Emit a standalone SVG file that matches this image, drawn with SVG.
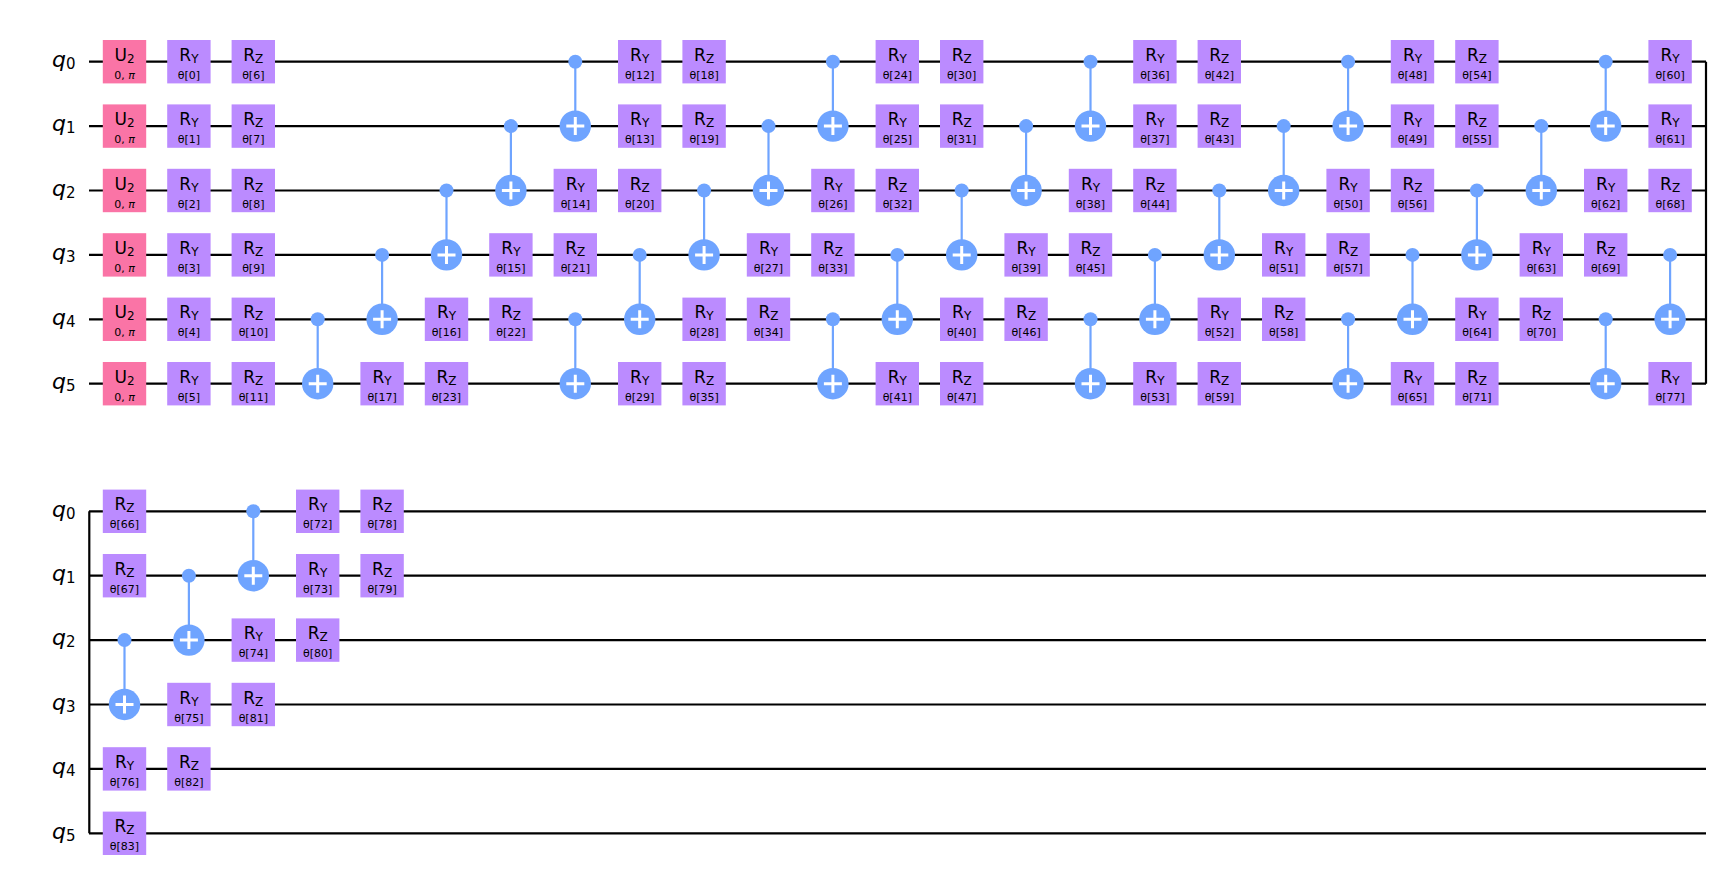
<svg xmlns="http://www.w3.org/2000/svg" width="1722" height="882" viewBox="0 0 1722 882">
<style>
.w{stroke:#000;stroke-width:2.2;fill:none}
.ry,.rz{fill:#BB8BFF}
.u{fill:#FA74A6}
text{font-family:"DejaVu Sans","Liberation Sans",sans-serif;fill:#000;text-anchor:middle}
.g{font-size:17px}
.s{font-size:12px}
.p{font-size:11px}
.q{font-size:22px;font-style:italic;text-anchor:start}
.qs{font-size:15px;font-style:normal}
.cl{stroke:#6FA4FF;stroke-width:2.2}
.cd{fill:#6FA4FF}
.pl{stroke:#fff;stroke-width:3}
</style>
<defs>
<rect id="box" x="-21.7" y="-21.7" width="43.4" height="43.4"/>
<g id="tg"><circle r="15.7" fill="#6FA4FF"/><path class="pl" d="M-9 0H9M0-9V9"/></g>
</defs>
<g id="wires">
<path class="w" d="M89 61.7H1706M89 126.1H1706M89 190.5H1706M89 254.9H1706M89 319.3H1706M89 383.7H1706M1706 61.7V383.7"/>
<path class="w" d="M89 511.3H1706M89 575.7H1706M89 640.1H1706M89 704.5H1706M89 768.9H1706M89 833.3H1706M89.3 511.3V833.3"/>
</g>
<g id="labels">
<text class="q" x="52" y="67">q<tspan class="qs" dy="2">0</tspan></text>
<text class="q" x="52" y="131.4">q<tspan class="qs" dy="2">1</tspan></text>
<text class="q" x="52" y="195.8">q<tspan class="qs" dy="2">2</tspan></text>
<text class="q" x="52" y="260.2">q<tspan class="qs" dy="2">3</tspan></text>
<text class="q" x="52" y="324.6">q<tspan class="qs" dy="2">4</tspan></text>
<text class="q" x="52" y="389">q<tspan class="qs" dy="2">5</tspan></text>
<text class="q" x="52" y="516.6">q<tspan class="qs" dy="2">0</tspan></text>
<text class="q" x="52" y="581">q<tspan class="qs" dy="2">1</tspan></text>
<text class="q" x="52" y="645.4">q<tspan class="qs" dy="2">2</tspan></text>
<text class="q" x="52" y="709.8">q<tspan class="qs" dy="2">3</tspan></text>
<text class="q" x="52" y="774.2">q<tspan class="qs" dy="2">4</tspan></text>
<text class="q" x="52" y="838.6">q<tspan class="qs" dy="2">5</tspan></text>
</g>
<g id="connectors">
<g id="cx-t"><path class="cl" d="M317.7 319.3V383.7M382.1 254.9V319.3M446.5 190.5V254.9M510.9 126.1V190.5M575.3 61.7V126.1
M575.3 319.3V383.7M639.7 254.9V319.3M704.1 190.5V254.9M768.5 126.1V190.5M832.9 61.7V126.1
M832.9 319.3V383.7M897.3 254.9V319.3M961.7 190.5V254.9M1026.1 126.1V190.5M1090.5 61.7V126.1
M1090.5 319.3V383.7M1154.9 254.9V319.3M1219.3 190.5V254.9M1283.7 126.1V190.5M1348.1 61.7V126.1
M1348.1 319.3V383.7M1412.5 254.9V319.3M1476.9 190.5V254.9M1541.3 126.1V190.5M1605.7 61.7V126.1
M1605.7 319.3V383.7M1670.1 254.9V319.3"/></g>
<g id="cx-b"><path class="cl" d="M124.5 640.1V704.5M188.9 575.7V640.1M253.3 511.3V575.7"/></g>
</g>
<g id="cx-nodes" class="cd">
<circle cx="317.7" cy="319.3" r="7"/><use href="#tg" x="317.7" y="383.7"/>
<circle cx="382.1" cy="254.9" r="7"/><use href="#tg" x="382.1" y="319.3"/>
<circle cx="446.5" cy="190.5" r="7"/><use href="#tg" x="446.5" y="254.9"/>
<circle cx="510.9" cy="126.1" r="7"/><use href="#tg" x="510.9" y="190.5"/>
<circle cx="575.3" cy="61.7" r="7"/><use href="#tg" x="575.3" y="126.1"/>
<circle cx="575.3" cy="319.3" r="7"/><use href="#tg" x="575.3" y="383.7"/>
<circle cx="639.7" cy="254.9" r="7"/><use href="#tg" x="639.7" y="319.3"/>
<circle cx="704.1" cy="190.5" r="7"/><use href="#tg" x="704.1" y="254.9"/>
<circle cx="768.5" cy="126.1" r="7"/><use href="#tg" x="768.5" y="190.5"/>
<circle cx="832.9" cy="61.7" r="7"/><use href="#tg" x="832.9" y="126.1"/>
<circle cx="832.9" cy="319.3" r="7"/><use href="#tg" x="832.9" y="383.7"/>
<circle cx="897.3" cy="254.9" r="7"/><use href="#tg" x="897.3" y="319.3"/>
<circle cx="961.7" cy="190.5" r="7"/><use href="#tg" x="961.7" y="254.9"/>
<circle cx="1026.1" cy="126.1" r="7"/><use href="#tg" x="1026.1" y="190.5"/>
<circle cx="1090.5" cy="61.7" r="7"/><use href="#tg" x="1090.5" y="126.1"/>
<circle cx="1090.5" cy="319.3" r="7"/><use href="#tg" x="1090.5" y="383.7"/>
<circle cx="1154.9" cy="254.9" r="7"/><use href="#tg" x="1154.9" y="319.3"/>
<circle cx="1219.3" cy="190.5" r="7"/><use href="#tg" x="1219.3" y="254.9"/>
<circle cx="1283.7" cy="126.1" r="7"/><use href="#tg" x="1283.7" y="190.5"/>
<circle cx="1348.1" cy="61.7" r="7"/><use href="#tg" x="1348.1" y="126.1"/>
<circle cx="1348.1" cy="319.3" r="7"/><use href="#tg" x="1348.1" y="383.7"/>
<circle cx="1412.5" cy="254.9" r="7"/><use href="#tg" x="1412.5" y="319.3"/>
<circle cx="1476.9" cy="190.5" r="7"/><use href="#tg" x="1476.9" y="254.9"/>
<circle cx="1541.3" cy="126.1" r="7"/><use href="#tg" x="1541.3" y="190.5"/>
<circle cx="1605.7" cy="61.7" r="7"/><use href="#tg" x="1605.7" y="126.1"/>
<circle cx="1605.7" cy="319.3" r="7"/><use href="#tg" x="1605.7" y="383.7"/>
<circle cx="1670.1" cy="254.9" r="7"/><use href="#tg" x="1670.1" y="319.3"/>
<circle cx="124.5" cy="640.1" r="7"/><use href="#tg" x="124.5" y="704.5"/>
<circle cx="188.9" cy="575.7" r="7"/><use href="#tg" x="188.9" y="640.1"/>
<circle cx="253.3" cy="511.3" r="7"/><use href="#tg" x="253.3" y="575.7"/>
</g>
<g id="u2">
<g transform="translate(124.5,61.7)"><use href="#box" class="u"/><text class="g" y="-1">U<tspan class="s" dy="2">2</tspan></text><text class="p" y="17">0, <tspan font-style="italic">π</tspan></text></g>
<g transform="translate(124.5,126.1)"><use href="#box" class="u"/><text class="g" y="-1">U<tspan class="s" dy="2">2</tspan></text><text class="p" y="17">0, <tspan font-style="italic">π</tspan></text></g>
<g transform="translate(124.5,190.5)"><use href="#box" class="u"/><text class="g" y="-1">U<tspan class="s" dy="2">2</tspan></text><text class="p" y="17">0, <tspan font-style="italic">π</tspan></text></g>
<g transform="translate(124.5,254.9)"><use href="#box" class="u"/><text class="g" y="-1">U<tspan class="s" dy="2">2</tspan></text><text class="p" y="17">0, <tspan font-style="italic">π</tspan></text></g>
<g transform="translate(124.5,319.3)"><use href="#box" class="u"/><text class="g" y="-1">U<tspan class="s" dy="2">2</tspan></text><text class="p" y="17">0, <tspan font-style="italic">π</tspan></text></g>
<g transform="translate(124.5,383.7)"><use href="#box" class="u"/><text class="g" y="-1">U<tspan class="s" dy="2">2</tspan></text><text class="p" y="17">0, <tspan font-style="italic">π</tspan></text></g>
</g>
<g id="rots">
<g transform="translate(188.9,61.7)"><use href="#box" class="ry"/><text class="g" y="-1">R<tspan class="s" dy="2">Y</tspan></text><text class="p" y="17">θ[0]</text></g>
<g transform="translate(188.9,126.1)"><use href="#box" class="ry"/><text class="g" y="-1">R<tspan class="s" dy="2">Y</tspan></text><text class="p" y="17">θ[1]</text></g>
<g transform="translate(188.9,190.5)"><use href="#box" class="ry"/><text class="g" y="-1">R<tspan class="s" dy="2">Y</tspan></text><text class="p" y="17">θ[2]</text></g>
<g transform="translate(188.9,254.9)"><use href="#box" class="ry"/><text class="g" y="-1">R<tspan class="s" dy="2">Y</tspan></text><text class="p" y="17">θ[3]</text></g>
<g transform="translate(188.9,319.3)"><use href="#box" class="ry"/><text class="g" y="-1">R<tspan class="s" dy="2">Y</tspan></text><text class="p" y="17">θ[4]</text></g>
<g transform="translate(188.9,383.7)"><use href="#box" class="ry"/><text class="g" y="-1">R<tspan class="s" dy="2">Y</tspan></text><text class="p" y="17">θ[5]</text></g>
<g transform="translate(253.3,61.7)"><use href="#box" class="rz"/><text class="g" y="-1">R<tspan class="s" dy="2">Z</tspan></text><text class="p" y="17">θ[6]</text></g>
<g transform="translate(253.3,126.1)"><use href="#box" class="rz"/><text class="g" y="-1">R<tspan class="s" dy="2">Z</tspan></text><text class="p" y="17">θ[7]</text></g>
<g transform="translate(253.3,190.5)"><use href="#box" class="rz"/><text class="g" y="-1">R<tspan class="s" dy="2">Z</tspan></text><text class="p" y="17">θ[8]</text></g>
<g transform="translate(253.3,254.9)"><use href="#box" class="rz"/><text class="g" y="-1">R<tspan class="s" dy="2">Z</tspan></text><text class="p" y="17">θ[9]</text></g>
<g transform="translate(253.3,319.3)"><use href="#box" class="rz"/><text class="g" y="-1">R<tspan class="s" dy="2">Z</tspan></text><text class="p" y="17">θ[10]</text></g>
<g transform="translate(253.3,383.7)"><use href="#box" class="rz"/><text class="g" y="-1">R<tspan class="s" dy="2">Z</tspan></text><text class="p" y="17">θ[11]</text></g>
<g transform="translate(639.7,61.7)"><use href="#box" class="ry"/><text class="g" y="-1">R<tspan class="s" dy="2">Y</tspan></text><text class="p" y="17">θ[12]</text></g>
<g transform="translate(639.7,126.1)"><use href="#box" class="ry"/><text class="g" y="-1">R<tspan class="s" dy="2">Y</tspan></text><text class="p" y="17">θ[13]</text></g>
<g transform="translate(575.3,190.5)"><use href="#box" class="ry"/><text class="g" y="-1">R<tspan class="s" dy="2">Y</tspan></text><text class="p" y="17">θ[14]</text></g>
<g transform="translate(510.9,254.9)"><use href="#box" class="ry"/><text class="g" y="-1">R<tspan class="s" dy="2">Y</tspan></text><text class="p" y="17">θ[15]</text></g>
<g transform="translate(446.5,319.3)"><use href="#box" class="ry"/><text class="g" y="-1">R<tspan class="s" dy="2">Y</tspan></text><text class="p" y="17">θ[16]</text></g>
<g transform="translate(382.1,383.7)"><use href="#box" class="ry"/><text class="g" y="-1">R<tspan class="s" dy="2">Y</tspan></text><text class="p" y="17">θ[17]</text></g>
<g transform="translate(704.1,61.7)"><use href="#box" class="rz"/><text class="g" y="-1">R<tspan class="s" dy="2">Z</tspan></text><text class="p" y="17">θ[18]</text></g>
<g transform="translate(704.1,126.1)"><use href="#box" class="rz"/><text class="g" y="-1">R<tspan class="s" dy="2">Z</tspan></text><text class="p" y="17">θ[19]</text></g>
<g transform="translate(639.7,190.5)"><use href="#box" class="rz"/><text class="g" y="-1">R<tspan class="s" dy="2">Z</tspan></text><text class="p" y="17">θ[20]</text></g>
<g transform="translate(575.3,254.9)"><use href="#box" class="rz"/><text class="g" y="-1">R<tspan class="s" dy="2">Z</tspan></text><text class="p" y="17">θ[21]</text></g>
<g transform="translate(510.9,319.3)"><use href="#box" class="rz"/><text class="g" y="-1">R<tspan class="s" dy="2">Z</tspan></text><text class="p" y="17">θ[22]</text></g>
<g transform="translate(446.5,383.7)"><use href="#box" class="rz"/><text class="g" y="-1">R<tspan class="s" dy="2">Z</tspan></text><text class="p" y="17">θ[23]</text></g>
<g transform="translate(897.3,61.7)"><use href="#box" class="ry"/><text class="g" y="-1">R<tspan class="s" dy="2">Y</tspan></text><text class="p" y="17">θ[24]</text></g>
<g transform="translate(897.3,126.1)"><use href="#box" class="ry"/><text class="g" y="-1">R<tspan class="s" dy="2">Y</tspan></text><text class="p" y="17">θ[25]</text></g>
<g transform="translate(832.9,190.5)"><use href="#box" class="ry"/><text class="g" y="-1">R<tspan class="s" dy="2">Y</tspan></text><text class="p" y="17">θ[26]</text></g>
<g transform="translate(768.5,254.9)"><use href="#box" class="ry"/><text class="g" y="-1">R<tspan class="s" dy="2">Y</tspan></text><text class="p" y="17">θ[27]</text></g>
<g transform="translate(704.1,319.3)"><use href="#box" class="ry"/><text class="g" y="-1">R<tspan class="s" dy="2">Y</tspan></text><text class="p" y="17">θ[28]</text></g>
<g transform="translate(639.7,383.7)"><use href="#box" class="ry"/><text class="g" y="-1">R<tspan class="s" dy="2">Y</tspan></text><text class="p" y="17">θ[29]</text></g>
<g transform="translate(961.7,61.7)"><use href="#box" class="rz"/><text class="g" y="-1">R<tspan class="s" dy="2">Z</tspan></text><text class="p" y="17">θ[30]</text></g>
<g transform="translate(961.7,126.1)"><use href="#box" class="rz"/><text class="g" y="-1">R<tspan class="s" dy="2">Z</tspan></text><text class="p" y="17">θ[31]</text></g>
<g transform="translate(897.3,190.5)"><use href="#box" class="rz"/><text class="g" y="-1">R<tspan class="s" dy="2">Z</tspan></text><text class="p" y="17">θ[32]</text></g>
<g transform="translate(832.9,254.9)"><use href="#box" class="rz"/><text class="g" y="-1">R<tspan class="s" dy="2">Z</tspan></text><text class="p" y="17">θ[33]</text></g>
<g transform="translate(768.5,319.3)"><use href="#box" class="rz"/><text class="g" y="-1">R<tspan class="s" dy="2">Z</tspan></text><text class="p" y="17">θ[34]</text></g>
<g transform="translate(704.1,383.7)"><use href="#box" class="rz"/><text class="g" y="-1">R<tspan class="s" dy="2">Z</tspan></text><text class="p" y="17">θ[35]</text></g>
<g transform="translate(1154.9,61.7)"><use href="#box" class="ry"/><text class="g" y="-1">R<tspan class="s" dy="2">Y</tspan></text><text class="p" y="17">θ[36]</text></g>
<g transform="translate(1154.9,126.1)"><use href="#box" class="ry"/><text class="g" y="-1">R<tspan class="s" dy="2">Y</tspan></text><text class="p" y="17">θ[37]</text></g>
<g transform="translate(1090.5,190.5)"><use href="#box" class="ry"/><text class="g" y="-1">R<tspan class="s" dy="2">Y</tspan></text><text class="p" y="17">θ[38]</text></g>
<g transform="translate(1026.1,254.9)"><use href="#box" class="ry"/><text class="g" y="-1">R<tspan class="s" dy="2">Y</tspan></text><text class="p" y="17">θ[39]</text></g>
<g transform="translate(961.7,319.3)"><use href="#box" class="ry"/><text class="g" y="-1">R<tspan class="s" dy="2">Y</tspan></text><text class="p" y="17">θ[40]</text></g>
<g transform="translate(897.3,383.7)"><use href="#box" class="ry"/><text class="g" y="-1">R<tspan class="s" dy="2">Y</tspan></text><text class="p" y="17">θ[41]</text></g>
<g transform="translate(1219.3,61.7)"><use href="#box" class="rz"/><text class="g" y="-1">R<tspan class="s" dy="2">Z</tspan></text><text class="p" y="17">θ[42]</text></g>
<g transform="translate(1219.3,126.1)"><use href="#box" class="rz"/><text class="g" y="-1">R<tspan class="s" dy="2">Z</tspan></text><text class="p" y="17">θ[43]</text></g>
<g transform="translate(1154.9,190.5)"><use href="#box" class="rz"/><text class="g" y="-1">R<tspan class="s" dy="2">Z</tspan></text><text class="p" y="17">θ[44]</text></g>
<g transform="translate(1090.5,254.9)"><use href="#box" class="rz"/><text class="g" y="-1">R<tspan class="s" dy="2">Z</tspan></text><text class="p" y="17">θ[45]</text></g>
<g transform="translate(1026.1,319.3)"><use href="#box" class="rz"/><text class="g" y="-1">R<tspan class="s" dy="2">Z</tspan></text><text class="p" y="17">θ[46]</text></g>
<g transform="translate(961.7,383.7)"><use href="#box" class="rz"/><text class="g" y="-1">R<tspan class="s" dy="2">Z</tspan></text><text class="p" y="17">θ[47]</text></g>
<g transform="translate(1412.5,61.7)"><use href="#box" class="ry"/><text class="g" y="-1">R<tspan class="s" dy="2">Y</tspan></text><text class="p" y="17">θ[48]</text></g>
<g transform="translate(1412.5,126.1)"><use href="#box" class="ry"/><text class="g" y="-1">R<tspan class="s" dy="2">Y</tspan></text><text class="p" y="17">θ[49]</text></g>
<g transform="translate(1348.1,190.5)"><use href="#box" class="ry"/><text class="g" y="-1">R<tspan class="s" dy="2">Y</tspan></text><text class="p" y="17">θ[50]</text></g>
<g transform="translate(1283.7,254.9)"><use href="#box" class="ry"/><text class="g" y="-1">R<tspan class="s" dy="2">Y</tspan></text><text class="p" y="17">θ[51]</text></g>
<g transform="translate(1219.3,319.3)"><use href="#box" class="ry"/><text class="g" y="-1">R<tspan class="s" dy="2">Y</tspan></text><text class="p" y="17">θ[52]</text></g>
<g transform="translate(1154.9,383.7)"><use href="#box" class="ry"/><text class="g" y="-1">R<tspan class="s" dy="2">Y</tspan></text><text class="p" y="17">θ[53]</text></g>
<g transform="translate(1476.9,61.7)"><use href="#box" class="rz"/><text class="g" y="-1">R<tspan class="s" dy="2">Z</tspan></text><text class="p" y="17">θ[54]</text></g>
<g transform="translate(1476.9,126.1)"><use href="#box" class="rz"/><text class="g" y="-1">R<tspan class="s" dy="2">Z</tspan></text><text class="p" y="17">θ[55]</text></g>
<g transform="translate(1412.5,190.5)"><use href="#box" class="rz"/><text class="g" y="-1">R<tspan class="s" dy="2">Z</tspan></text><text class="p" y="17">θ[56]</text></g>
<g transform="translate(1348.1,254.9)"><use href="#box" class="rz"/><text class="g" y="-1">R<tspan class="s" dy="2">Z</tspan></text><text class="p" y="17">θ[57]</text></g>
<g transform="translate(1283.7,319.3)"><use href="#box" class="rz"/><text class="g" y="-1">R<tspan class="s" dy="2">Z</tspan></text><text class="p" y="17">θ[58]</text></g>
<g transform="translate(1219.3,383.7)"><use href="#box" class="rz"/><text class="g" y="-1">R<tspan class="s" dy="2">Z</tspan></text><text class="p" y="17">θ[59]</text></g>
<g transform="translate(1670.1,61.7)"><use href="#box" class="ry"/><text class="g" y="-1">R<tspan class="s" dy="2">Y</tspan></text><text class="p" y="17">θ[60]</text></g>
<g transform="translate(1670.1,126.1)"><use href="#box" class="ry"/><text class="g" y="-1">R<tspan class="s" dy="2">Y</tspan></text><text class="p" y="17">θ[61]</text></g>
<g transform="translate(1605.7,190.5)"><use href="#box" class="ry"/><text class="g" y="-1">R<tspan class="s" dy="2">Y</tspan></text><text class="p" y="17">θ[62]</text></g>
<g transform="translate(1541.3,254.9)"><use href="#box" class="ry"/><text class="g" y="-1">R<tspan class="s" dy="2">Y</tspan></text><text class="p" y="17">θ[63]</text></g>
<g transform="translate(1476.9,319.3)"><use href="#box" class="ry"/><text class="g" y="-1">R<tspan class="s" dy="2">Y</tspan></text><text class="p" y="17">θ[64]</text></g>
<g transform="translate(1412.5,383.7)"><use href="#box" class="ry"/><text class="g" y="-1">R<tspan class="s" dy="2">Y</tspan></text><text class="p" y="17">θ[65]</text></g>
<g transform="translate(124.5,511.3)"><use href="#box" class="rz"/><text class="g" y="-1">R<tspan class="s" dy="2">Z</tspan></text><text class="p" y="17">θ[66]</text></g>
<g transform="translate(124.5,575.7)"><use href="#box" class="rz"/><text class="g" y="-1">R<tspan class="s" dy="2">Z</tspan></text><text class="p" y="17">θ[67]</text></g>
<g transform="translate(1670.1,190.5)"><use href="#box" class="rz"/><text class="g" y="-1">R<tspan class="s" dy="2">Z</tspan></text><text class="p" y="17">θ[68]</text></g>
<g transform="translate(1605.7,254.9)"><use href="#box" class="rz"/><text class="g" y="-1">R<tspan class="s" dy="2">Z</tspan></text><text class="p" y="17">θ[69]</text></g>
<g transform="translate(1541.3,319.3)"><use href="#box" class="rz"/><text class="g" y="-1">R<tspan class="s" dy="2">Z</tspan></text><text class="p" y="17">θ[70]</text></g>
<g transform="translate(1476.9,383.7)"><use href="#box" class="rz"/><text class="g" y="-1">R<tspan class="s" dy="2">Z</tspan></text><text class="p" y="17">θ[71]</text></g>
<g transform="translate(317.7,511.3)"><use href="#box" class="ry"/><text class="g" y="-1">R<tspan class="s" dy="2">Y</tspan></text><text class="p" y="17">θ[72]</text></g>
<g transform="translate(317.7,575.7)"><use href="#box" class="ry"/><text class="g" y="-1">R<tspan class="s" dy="2">Y</tspan></text><text class="p" y="17">θ[73]</text></g>
<g transform="translate(253.3,640.1)"><use href="#box" class="ry"/><text class="g" y="-1">R<tspan class="s" dy="2">Y</tspan></text><text class="p" y="17">θ[74]</text></g>
<g transform="translate(188.9,704.5)"><use href="#box" class="ry"/><text class="g" y="-1">R<tspan class="s" dy="2">Y</tspan></text><text class="p" y="17">θ[75]</text></g>
<g transform="translate(124.5,768.9)"><use href="#box" class="ry"/><text class="g" y="-1">R<tspan class="s" dy="2">Y</tspan></text><text class="p" y="17">θ[76]</text></g>
<g transform="translate(1670.1,383.7)"><use href="#box" class="ry"/><text class="g" y="-1">R<tspan class="s" dy="2">Y</tspan></text><text class="p" y="17">θ[77]</text></g>
<g transform="translate(382.1,511.3)"><use href="#box" class="rz"/><text class="g" y="-1">R<tspan class="s" dy="2">Z</tspan></text><text class="p" y="17">θ[78]</text></g>
<g transform="translate(382.1,575.7)"><use href="#box" class="rz"/><text class="g" y="-1">R<tspan class="s" dy="2">Z</tspan></text><text class="p" y="17">θ[79]</text></g>
<g transform="translate(317.7,640.1)"><use href="#box" class="rz"/><text class="g" y="-1">R<tspan class="s" dy="2">Z</tspan></text><text class="p" y="17">θ[80]</text></g>
<g transform="translate(253.3,704.5)"><use href="#box" class="rz"/><text class="g" y="-1">R<tspan class="s" dy="2">Z</tspan></text><text class="p" y="17">θ[81]</text></g>
<g transform="translate(188.9,768.9)"><use href="#box" class="rz"/><text class="g" y="-1">R<tspan class="s" dy="2">Z</tspan></text><text class="p" y="17">θ[82]</text></g>
<g transform="translate(124.5,833.3)"><use href="#box" class="rz"/><text class="g" y="-1">R<tspan class="s" dy="2">Z</tspan></text><text class="p" y="17">θ[83]</text></g>
</g>
</svg>
